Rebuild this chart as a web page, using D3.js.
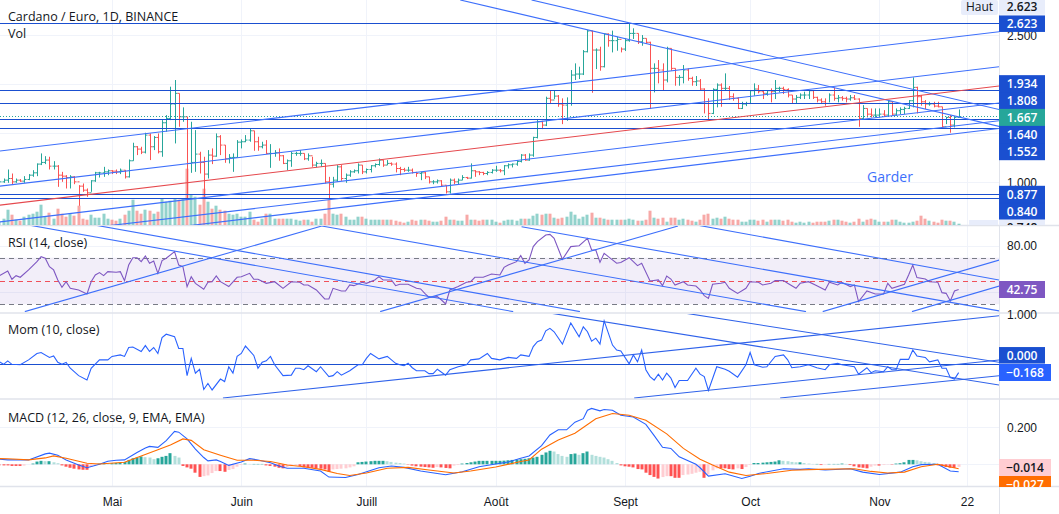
<!DOCTYPE html>
<html>
<head>
	<meta charset="utf-8">
	<title>Cardano / Euro</title>
	<script src="https://d3js.org/d3.v7.min.js"></script>
	<style>
		html, body { margin: 0; padding: 0; background: #fff; overflow: hidden; }
		svg { display: block; font-family: "Open Sans", "Noto Sans", sans-serif; }
	</style>
</head>
<body>
	<script>
		// daily bars, first one is 4 april, last one 20 nov
		const firstDay = new Date(Date.UTC(2021, 3, 4))

		const highs = [1.029,1.039,1.131,1.090,1.039,1.033,1.063,1.084,1.124,1.193,1.295,1.267,1.261,1.216,1.176,1.107,1.073,1.073,1.063,.971,.988,.937,1.022,1.107,1.107,1.158,1.131,1.124,1.131,1.141,1.124,1.233,1.404,1.370,1.363,1.506,1.499,1.472,1.499,1.635,1.686,1.976,2.044,1.908,1.765,1.669,1.618,1.533,1.312,1.261,1.329,1.346,1.499,1.482,1.380,1.288,1.295,1.431,1.438,1.482,1.550,1.526,1.465,1.414,1.431,1.390,1.329,1.346,1.278,1.233,1.312,1.312,1.329,1.295,1.295,1.261,1.210,1.233,1.193,1.056,1.056,1.176,1.176,1.090,
			1.124,1.131,1.193,1.176,1.141,1.176,1.193,1.244,1.227,1.227,1.203,1.203,1.158,1.148,1.158,1.141,1.107,1.107,1.107,1.056,1.022,1.029,1.022,.968,1.039,1.039,1.039,1.073,1.056,1.193,1.124,1.114,1.107,1.114,1.135,1.169,1.135,1.176,1.193,1.193,1.227,1.288,1.288,1.295,1.465,1.635,1.628,1.874,1.942,1.935,1.891,1.857,1.867,2.146,2.214,2.180,2.350,2.555,2.548,2.367,2.384,2.520,2.520,2.548,2.486,2.377,2.469,2.623,2.572,2.520,2.503,2.469,2.435,2.214,2.248,2.214,2.384,2.367,2.163,2.095,2.197,2.163,2.078,2.085,
			2.054,1.959,1.857,1.959,2.010,2.010,2.112,1.983,1.908,1.867,1.822,1.822,1.942,2.010,1.993,1.935,1.942,1.959,2.044,1.976,1.976,1.959,1.891,1.891,1.908,1.925,1.942,1.942,1.874,1.857,1.857,1.908,1.969,1.891,1.880,1.874,1.891,1.891,1.857,1.788,1.754,1.754,1.754,1.754,1.737,1.840,1.822,1.754,1.765,1.771,1.840,2.071,1.976,1.891,1.840,1.822,1.822,1.822,1.771,1.669,1.686,1.669,1.744]
		const lows = [.988,.995,.995,.981,.995,1.005,.995,1.022,1.056,1.063,1.176,1.186,1.131,1.131,.954,1.005,.937,.937,.981,.760,.903,.852,.903,1.005,1.049,1.056,1.073,1.084,1.084,1.084,1.039,1.049,1.220,1.278,1.288,1.295,1.227,1.329,1.295,1.261,1.516,1.635,1.397,1.567,1.618,.835,1.097,1.107,1.090,.835,1.039,1.186,1.261,1.278,1.199,1.193,1.107,1.254,1.346,1.410,1.414,1.322,1.322,1.346,1.288,1.148,1.261,1.220,1.186,1.124,1.158,1.271,1.271,1.227,1.220,1.158,1.152,1.158,.988,.835,.947,1.005,1.015,.995,
			1.056,1.097,1.090,1.084,1.090,1.101,1.152,1.169,1.158,1.176,1.169,1.101,1.073,1.107,1.107,1.090,1.056,1.022,1.033,.988,.981,.988,.954,.886,.886,.981,.981,1.022,1.033,1.039,1.056,1.073,1.073,1.073,1.090,1.107,1.101,1.073,1.141,1.152,1.169,1.203,1.220,1.220,1.261,1.448,1.543,1.574,1.799,1.850,1.771,1.594,1.628,1.782,2.044,2.054,2.095,2.326,1.914,2.156,2.139,2.173,2.384,2.326,2.343,2.326,2.340,2.435,2.463,2.412,2.394,2.412,1.748,1.918,2.010,1.942,2.020,2.139,1.986,1.986,2.010,2.037,1.986,1.983,
			1.942,1.703,1.635,1.696,1.765,1.771,1.942,1.840,1.833,1.748,1.748,1.778,1.799,1.884,1.908,1.850,1.884,1.816,1.850,1.918,1.901,1.867,1.805,1.805,1.850,1.850,1.850,1.850,1.816,1.799,1.782,1.816,1.833,1.816,1.833,1.816,1.833,1.840,1.567,1.645,1.662,1.662,1.662,1.662,1.669,1.669,1.679,1.679,1.696,1.696,1.748,1.765,1.703,1.782,1.748,1.782,1.765,1.765,1.550,1.594,1.506,1.560,1.662]
		const closes = [1.005,1.022,1.039,1.005,1.022,1.012,1.029,1.073,1.097,1.186,1.203,1.227,1.165,1.165,1.073,1.063,1.049,1.056,1.005,.961,.920,.893,1.015,1.097,1.097,1.107,1.118,1.114,1.107,1.124,1.056,1.220,1.363,1.339,1.308,1.482,1.363,1.458,1.312,1.608,1.652,1.799,1.908,1.669,1.669,1.193,1.203,1.288,1.203,1.084,1.278,1.267,1.465,1.380,1.240,1.254,1.254,1.410,1.414,1.431,1.526,1.414,1.363,1.380,1.295,1.295,1.302,1.271,1.193,1.220,1.295,1.295,1.295,1.240,1.271,1.176,1.193,1.193,1.005,.981,1.022,1.158,1.039,1.073,
			1.107,1.118,1.176,1.107,1.131,1.169,1.182,1.227,1.176,1.193,1.186,1.141,1.131,1.124,1.124,1.101,1.090,1.097,1.056,1.005,1.005,1.015,.971,.903,1.022,1.005,1.022,1.049,1.043,1.118,1.107,1.101,1.090,1.101,1.124,1.124,1.118,1.169,1.179,1.186,1.213,1.278,1.227,1.278,1.458,1.618,1.584,1.857,1.840,1.880,1.799,1.788,1.805,2.095,2.105,2.105,2.333,2.544,2.350,2.350,2.180,2.514,2.446,2.446,2.459,2.360,2.446,2.520,2.520,2.435,2.469,2.429,2.163,2.163,2.146,2.044,2.367,2.163,2.071,2.071,2.146,2.061,2.027,2.034,
			1.952,1.805,1.703,1.948,1.993,1.959,1.959,1.874,1.857,1.754,1.799,1.805,1.935,1.952,1.925,1.908,1.935,1.925,1.959,1.959,1.948,1.891,1.850,1.867,1.891,1.891,1.935,1.867,1.840,1.822,1.805,1.891,1.857,1.863,1.857,1.850,1.863,1.850,1.652,1.754,1.696,1.686,1.686,1.696,1.686,1.822,1.696,1.731,1.744,1.754,1.833,1.969,1.874,1.822,1.799,1.799,1.778,1.771,1.567,1.662,1.584,1.662,1.667]
		const volumes = [4,7,16,11,6,5,9,11,12,14,21,9,13,7,17,12,9,12,10,20,7,6,11,8,8,12,7,6,5,7,11,15,26,15,12,16,15,12,14,27,24,25,27,26,27,57,31,29,21,37,24,17,20,16,15,12,11,12,9,9,14,6,4,7,12,12,7,7,7,7,7,6,5,6,6,4,7,7,12,26,12,11,12,9,
			6,6,9,9,7,6,6,6,6,6,6,5,4,3,4,6,5,6,6,5,4,4,5,9,6,6,5,5,11,6,6,5,6,6,6,4,3,5,6,6,5,7,7,7,10,12,11,12,12,8,7,8,9,14,11,7,9,11,13,8,8,7,6,6,6,6,6,7,6,5,5,6,15,8,7,8,4,8,8,6,7,6,5,4,
			6,11,12,7,8,7,9,7,6,6,4,4,6,6,5,6,4,6,6,6,5,6,4,3,4,3,4,3,4,4,4,5,6,6,5,4,3,4,7,4,6,7,6,4,4,4,6,6,4,3,3,4,5,10,7,5,4,3,6,5,5,4,2]

		const rsiDays = [0,2,3,4,5,7,9,10,11,12,13,14,15,16,17,19,21,22,23,24,25,26,28,29,30,31,32,33,34,35,36,37,38,39,40,42,43,44,45,46,47,49,50,51,52,53,55,57,58,60,61,62,64,66,68,70,72,73,74,76,78,79,80,82,83,
			84,85,87,88,90,91,92,94,95,96,98,100,101,102,103,105,106,107,108,110,112,113,114,116,118,120,121,122,124,125,126,127,128,129,131,132,133,135,137,139,141,142,143,144,145,146,148,149,151,153,154,156,158,159,160,161,162,164,165,167,168,
			169,170,171,173,174,175,177,179,180,182,183,185,186,188,189,191,192,194,196,198,199,201,202,204,205,206,208,210,212,213,214,217,218,219,220,222,223,225,226,227,228,229,230]
		const rsi = [54.6,58.6,51.5,54.6,53.2,59.5,66.6,70.9,69.5,62.3,59.5,50.9,44.6,49.4,43.7,42.3,38.9,49.4,55.2,57.2,54.6,58,57.5,58,50.3,63.7,70,70,66.6,71.5,65.2,67.2,56.6,67.5,69.5,75.2,63.7,62.3,45.2,53.7,48,42.9,48.9,49.4,54.3,49.4,45.2,53.2,53.7,56.6,51.5,51.5,48,49.4,43.7,49.4,48.9,46.6,46.6,42.3,34.6,34.6,43.7,41.4,41.4,
			46.6,46,48.9,48,50.9,53.7,50.9,50.9,46,47.2,47.2,43.7,43.2,39.4,36,36.6,33.7,30.3,42.3,45.2,48.9,49.4,53.2,53.2,56,55.2,61.7,63.7,66.6,71.8,65.2,68,79.5,83.8,89.5,90,86.6,68.6,79.5,80.3,86.6,76.6,76.6,66,73.8,70.9,65.2,65.8,70,63.2,65.2,50,50.9,46,54.3,51.7,46.6,49.4,46.6,45.7,42.3,
			37.4,35.1,47.2,48,48.9,43.7,39.4,43.7,49.4,48.9,46.6,48,50.3,50.3,48,43.7,48,49.4,46,42.3,48.9,46.6,48.9,45.2,46.6,32.3,41.4,38.9,38.9,48,43.7,47.2,55.2,63.7,52.9,51.7,49.4,48.9,40,39.4,32.9,41.4,42.75]

		const momDays = [0,1,2,3,5,7,9,10,12,13,14,15,16,17,19,21,22,24,26,27,29,30,31,32,34,35,36,37,38,39,40,42,43,44,45,46,47,48,49,50,51,53,54,55,56,57,58,59,61,62,63,64,65,66,68,70,71,72,73,74,76,77,79,80,81,82,84,
			85,86,87,88,89,91,93,95,96,97,98,99,100,102,103,104,105,107,108,110,112,113,115,117,118,120,122,124,125,127,128,129,130,131,132,133,135,137,139,140,141,142,143,144,145,147,148,149,151,152,153,154,155,156,157,158,159,160,161,162,163,165,167,168,
			169,170,172,174,175,177,179,180,181,183,184,186,188,189,190,192,194,196,198,199,201,202,205,206,208,209,210,212,213,214,215,216,218,219,220,222,223,225,226,227,228,229,230]
		const mom = [.05,0,.07,0,-.01,.09,.22,.24,.14,.17,.04,0,.04,-.08,-.23,-.32,-.08,.09,.09,.16,.19,.16,.34,.35,.26,.38,.26,.34,.22,.54,.61,.56,.32,.32,-.23,.12,-.18,-.10,-.51,-.39,-.52,-.30,-.35,-.05,-.18,.16,.22,.37,.18,-.08,.04,.07,.16,-.01,-.23,-.22,-.08,-.08,-.11,-.03,-.15,-.05,-.25,-.23,-.15,-.22,-.13,
			-.07,-.01,-.01,.12,.22,.11,.16,.02,-.01,-.03,.02,-.07,-.13,-.13,-.19,-.19,-.10,-.22,-.11,-.05,-.01,.09,.11,.22,.12,.09,.14,.12,.19,.16,.36,.46,.49,.68,.73,.66,.41,.84,.56,.76,.66,.47,.53,.41,.88,.39,.29,.27,.01,.19,.05,.29,-.11,-.25,-.32,-.20,-.32,-.18,-.28,-.47,-.33,-.33,-.08,-.20,
			-.25,-.53,-.05,-.10,-.14,-.26,-.01,.24,-.01,-.06,-.05,.16,.19,.09,-.07,-.05,-.01,-.07,-.11,-.01,.02,-.01,-.05,-.20,-.07,-.17,-.13,-.15,-.05,-.11,-.11,.10,.10,.29,.17,.14,.05,.09,-.08,-.08,-.27,-.30,-.168]

		const macdDays = [0,2,7,11,12,14,16,19,21,24,26,28,30,33,35,36,38,40,42,43,45,47,49,50,52,53,55,58,60,62,65,67,69,73,77,79,83,86,91,94,97,101,107,111,115,119,122,125,127,130,132,134,136,138,140,141,142,144,145,147,149,152,155,157,159,161,163,167,168,170,174,178,180,182,188,192,194,198,204,207,211,216,219,221,225,228,230]
		const macd = [.028,.024,.024,.057,.061,.05,.024,-.004,-.019,0,.017,.022,.024,.065,.089,.098,.093,.13,.18,.176,.139,.083,.037,.019,.024,.015,-.006,.013,.031,.024,.009,-.009,-.022,-.022,-.037,-.07,-.072,-.056,-.019,-.009,-.017,-.037,-.057,-.041,-.013,.002,.013,.033,.046,.102,.161,.189,.189,.231,.25,.296,.306,.293,.30,.296,.269,.259,.219,.157,.093,.087,.041,0,-.019,-.065,-.052,-.078,-.065,-.05,-.024,-.028,-.024,-.031,-.024,-.043,-.056,-.043,-.013,-.002,0,-.037,-.041]
		const signalDays = [0,2,7,11,13,16,21,24,30,34,38,41,44,46,49,53,57,61,65,69,73,77,81,84,88,93,98,103,109,113,119,125,127,130,134,138,143,147,151,155,160,164,168,171,175,179,184,190,196,205,209,213,217,221,225,230]
		const signal = [.031,.03,.024,.035,.046,.033,.006,.002,.011,.046,.08,.106,.139,.131,.08,.05,.022,.022,.015,-.004,-.013,-.028,-.05,-.061,-.048,-.022,-.017,-.031,-.048,-.037,-.015,.015,.024,.083,.133,.17,.25,.278,.269,.241,.167,.087,.028,-.004,-.043,-.061,-.05,-.033,-.028,-.024,-.039,-.048,-.043,-.013,0,-.024]
		const hist = [-.006,-.006,-.006,-.009,-.009,-.009,-.007,0,.004,.015,.019,.017,.017,.011,.006,-.006,-.013,-.019,-.024,-.028,-.03,-.03,-.015,-.006,.004,.007,.006,.006,.007,.009,.013,.024,.033,.037,.043,.039,.037,.028,.033,.041,.046,.061,.046,.037,-.009,-.017,-.024,-.046,-.069,-.065,-.061,-.048,-.037,-.037,-.041,-.031,-.026,-.013,-.004,.004,.002,.002,.002,.002,-.006,-.009,-.013,-.019,-.022,-.015,-.011,-.007,-.009,-.017,-.019,-.019,-.022,-.024,-.028,-.041,-.028,-.026,-.024,-.022,-.017,-.011,
			.011,.013,.015,.017,.019,.019,.019,.017,.013,.009,.007,.004,-.002,-.007,-.011,-.013,-.015,-.017,-.019,-.015,-.017,-.02,-.022,-.007,-.004,.004,.007,.011,.015,.019,.019,.019,.019,.019,.019,.02,.022,.024,.026,.028,.03,
			.033,.037,.041,.052,.065,.074,.07,.056,.046,.041,.056,.059,.052,.061,.07,.052,.046,.041,.037,.028,.019,.007,-.006,-.011,-.013,-.017,-.026,-.028,-.046,-.059,-.069,-.078,-.07,-.065,-.065,-.074,-.074,-.059,-.056,-.052,-.046,-.041,-.074,-.056,-.033,-.022,-.022,-.022,-.026,-.028,-.022,-.026,-.015,-.004,.007,.007,.009,.011,.013,.015,.022,.019,.017,.013,.011,.011,.007,.004,.002,.002,-.004,-.002,.002,.002,.002,.004,.002,-.004,-.011,-.017,-.019,-.022,-.013,-.007,-.007,-.004,-.002,-.002,.004,.006,.011,.024,.024,.022,.017,.013,.011,.007,-.006,-.011,-.015,-.019,-.02,-.014]

		// horizontal levels and trend lines, [day, value, day, value]
		const priceLevels = [2.623, 1.934, 1.808, 1.640, 1.552, .877, .840]
		const priceChannel = [[0,1.319,239.7,2.537],[0,.961,239.7,2.180],[0,.596,239.7,1.809],[0,.426,239.7,1.628],[0,.325,239.7,1.55],[110.5,2.861,239.7,1.571],[127.6,2.861,239.7,1.743]]
		const priceMiddle = [0,.767,239.7,1.983]
		const rsiLines = [[6.1,23.7,77.3,97.2],[77.3,97.2,193.4,23.7],[7.1,98,123.2,23.7],[22.9,98,139.2,23.7],[125.2,96.6,239.8,24.3],[167.3,98,239.8,50.8],[91.3,23.7,162.7,97.2],[197.4,23.7,239.8,68],[218.8,23.7,239.8,45.7]]
		const momLines = [[53.6,-.684,239.7,.986],[152.2,-.684,239.7,.087],[187.2,-.684,239.7,-.231],[132.4,1.034,239.7,-.42],[164.2,1.04,239.7,.04]]

		const tickLabels = ["Mai", "Juin", "Juill", "Août", "Sept", "Oct", "Nov", "22"]
		const tickDates = [[4,1],[5,1],[6,1],[7,1],[8,1],[9,1],[10,1],[10,22]].map(([m, d]) => new Date(Date.UTC(2021, m, d)))

		const width = 1059, height = 514, axisX = 999
		const blue = "#2962ff", level = "#1a4fd0", up = "#26a69a", down = "#ef5350", grid = "#f0f3fa", sep = "#e0e3eb", ink = "#131722"

		const svg = d3.select("body").append("svg").attr("width", width).attr("height", height)

		const day = i => new Date(firstDay.getTime() + i * 864e5)
		const x = d3.scaleUtc()
			.domain([day(27), day(232)])
			.range([112, 967])
		const xd = i => x(day(i))
		const px = i => Math.round(xd(i)) + 0.5

		const yPrice = d3.scaleLinear().domain([.84, 2.623]).range([198, 23.3])
		const yVol = d3.scaleLinear().domain([0, 57]).range([225.7, 168.7])
		const yRsi = d3.scaleLinear().domain([30, 70]).range([304.3, 257.7])
		const yMom = d3.scaleLinear().domain([0, 1]).range([364.3, 315])
		const yMacd = d3.scaleLinear().domain([0, .2]).range([464.3, 427.8])

		const panes = [["price", 0, 225], ["rsi", 226, 86], ["mom", 314, 84.5], ["macd", 400, 86.5]]
		const defs = svg.append("defs")
		panes.forEach(([id, top, h]) => {
			defs.append("clipPath").attr("id", "clip-" + id)
				.append("rect").attr("x", 0).attr("y", top).attr("width", axisX).attr("height", h)
		})
		const pane = id => svg.append("g").attr("clip-path", `url(#clip-${id})`)

		// grid first
		const gridG = svg.append("g").attr("stroke", grid).attr("fill", "none")
		tickDates.forEach(d => {
			gridG.append("line").attr("x1", Math.round(x(d)) + .5).attr("x2", Math.round(x(d)) + .5).attr("y1", 0).attr("y2", 486)
		})
		const hGrid = (scale, vals) => vals.forEach(v => {
			gridG.append("line").attr("x1", 0).attr("x2", axisX).attr("y1", Math.floor(scale(v)) + .5).attr("y2", Math.floor(scale(v)) + .5)
		})
		hGrid(yPrice, [2.5, 2, 1.5, 1])
		hGrid(yRsi, [80, 40])
		hGrid(yMom, [0])
		hGrid(yMacd, [.2, 0])

		// separators
		const sepG = svg.append("g").attr("stroke", sep).attr("stroke-width", 1.5)
		;[225.5, 313, 399, 486.5].forEach(y => sepG.append("line").attr("x1", 0).attr("x2", width).attr("y1", y).attr("y2", y))
		sepG.append("line").attr("x1", axisX + .5).attr("x2", axisX + .5).attr("y1", 0).attr("y2", height).attr("stroke-width", 1)

		// price pane
		const gPrice = pane("price")
		const opens = closes.map((c, i) => i ? closes[i - 1] : c)
		const isUp = i => closes[i] >= opens[i]

		gPrice.append("g").selectAll("rect").data(volumes).join("rect")
			.attr("x", (d, i) => Math.round(xd(i)) - 1.5)
			.attr("width", 3)
			.attr("y", d => yVol(d))
			.attr("height", d => yVol(0) - yVol(d))
			.attr("fill", (d, i) => isUp(i) ? up : down)
			.attr("fill-opacity", .5)

		gPrice.append("g").attr("fill", "none").selectAll("path").data(closes).join("path")
			.attr("stroke", (d, i) => isUp(i) ? up : "#fb5252")
			.attr("d", (d, i) => {
				const c = px(i)
				return `M${c},${yPrice(highs[i])}V${yPrice(lows[i])}`
					+ `M${c - 2},${yPrice(opens[i])}H${c}`
					+ `M${c},${yPrice(closes[i])}H${c + 2}`
			})

		gPrice.append("line")
			.attr("x1", 0).attr("x2", axisX)
			.attr("y1", Math.floor(yPrice(1.667)) + .5).attr("y2", Math.floor(yPrice(1.667)) + .5)
			.attr("stroke", up).attr("stroke-dasharray", "1 2")

		const drawLevels = (g, scale, vals) => g.append("g").selectAll("line").data(vals).join("line")
			.attr("x1", 0).attr("x2", axisX)
			.attr("y1", d => Math.floor(scale(d)) + .5).attr("y2", d => Math.floor(scale(d)) + .5)
			.attr("stroke", level)

		const drawTrends = (g, scale, rows, color) => g.append("g").selectAll("line").data(rows).join("line")
			.attr("x1", d => xd(d[0])).attr("y1", d => scale(d[1]))
			.attr("x2", d => xd(d[2])).attr("y2", d => scale(d[3]))
			.attr("stroke", color).attr("stroke-width", 1.1)

		drawLevels(gPrice, yPrice, priceLevels)
		drawTrends(gPrice, yPrice, priceChannel, "#3d6ffb")
		drawTrends(gPrice, yPrice, [priceMiddle], "#e5484d")

		gPrice.append("text").attr("x", 890).attr("y", 182).attr("text-anchor", "middle")
			.attr("fill", "#3d6ffb").style("font-size", "14px").text("Garder")

		// rsi pane
		const gRsi = pane("rsi")
		gRsi.append("rect")
			.attr("x", 0).attr("width", axisX)
			.attr("y", yRsi(70)).attr("height", yRsi(30) - yRsi(70))
			.attr("fill", "#7e57c2").attr("fill-opacity", .1)
		;[[70, "#787b86"], [30, "#787b86"], [50, "#f0505a"]].forEach(([v, c]) => {
			gRsi.append("line").attr("x1", 0).attr("x2", axisX)
				.attr("y1", Math.round(yRsi(v)) + .5).attr("y2", Math.round(yRsi(v)) + .5)
				.attr("stroke", c).attr("stroke-dasharray", "5 4")
		})
		const seriesLine = (g, days, vals, scale, color) => g.append("path")
			.datum(vals)
			.attr("fill", "none").attr("stroke", color).attr("stroke-width", 1.1)
			.attr("d", d3.line().x((d, i) => xd(days[i])).y(d => scale(d)))
		seriesLine(gRsi, rsiDays, rsi, yRsi, "#7e57c2")
		drawTrends(gRsi, yRsi, rsiLines, "#3d6ffb")

		// momentum pane
		const gMom = pane("mom")
		drawLevels(gMom, yMom, [0])
		seriesLine(gMom, momDays, mom, yMom, blue)
		drawTrends(gMom, yMom, momLines, "#2f62ea")

		// macd pane
		const gMacd = pane("macd")
		gMacd.append("g").selectAll("rect").data(hist).join("rect")
			.attr("x", (d, i) => Math.round(xd(i)) - 1.5)
			.attr("width", 3)
			.attr("y", d => Math.min(yMacd(d), yMacd(0)))
			.attr("height", d => Math.abs(yMacd(d) - yMacd(0)))
			.attr("fill", (d, i) => {
				const prev = i ? hist[i - 1] : d
				if (d >= 0) return prev <= d ? up : "#b2dfdb"
				return prev < d ? "#ffcdd2" : "#ff5252"
			})
		seriesLine(gMacd, macdDays, macd, yMacd, blue)
		seriesLine(gMacd, signalDays, signal, yMacd, "#ff6d00")

		// axes, 2.000 and 1.500 sit behind the tags in the chart so only their grid lines are drawn
		const tickText = g => {
			g.select(".domain").remove()
			g.selectAll("text").attr("fill", ink).attr("text-anchor", "middle").style("font-size", "12px")
		}
		const rightAxis = (scale, vals, fmt) => svg.append("g").attr("transform", `translate(${axisX},0)`)
			.call(d3.axisRight(scale).tickValues(vals).tickSize(0).tickPadding(23).tickFormat(d3.format(fmt)))
			.call(tickText)
		rightAxis(yPrice, [2.5, 1], ".3f")
		rightAxis(yRsi, [80], ".2f")
		rightAxis(yMom, [1], ".3f")
		rightAxis(yMacd, [.2], ".3f")
		svg.append("g").attr("transform", "translate(0,491)")
			.call(d3.axisBottom(x).tickValues(tickDates).tickSize(0).tickPadding(6).tickFormat((d, i) => tickLabels[i]))
			.call(tickText)

		// price tags on the right
		const tag = (cy, h, label, bg, fg, w = 46, clipTo = null) => {
			const g = svg.append("g")
			if (clipTo) {
				const id = "tag-" + label.replace(/\W/g, "")
				defs.append("clipPath").attr("id", id).append("rect").attr("x", axisX).attr("y", 0).attr("width", 60).attr("height", clipTo)
				g.attr("clip-path", `url(#${id})`)
			}
			g.append("rect").attr("x", axisX).attr("y", cy - h / 2).attr("width", w).attr("height", h).attr("fill", bg)
			g.append("text").attr("x", axisX + w / 2).attr("y", cy).attr("dy", ".36em")
				.attr("text-anchor", "middle").attr("fill", fg).style("font-size", "12px").style("font-weight", 600).text(label)
		}
		tag(7, 15.5, "2.623", "#e8edfb", "#131722")
		svg.append("rect").attr("x", 961).attr("y", 0).attr("width", 37).attr("height", 15).attr("rx", 2).attr("fill", "#e8edfb")
		svg.append("text").attr("x", 979.5).attr("y", 7).attr("dy", ".36em").attr("text-anchor", "middle")
			.attr("fill", ink).style("font-size", "12px").text("Haut")
		tag(23.7, 16.5, "2.623", level, "#fff")
		svg.append("rect").attr("x", axisX).attr("y", 75.3).attr("width", 46).attr("height", 84.5).attr("fill", level)
		tag(84, 17, "1.934", level, "#fff")
		tag(100.7, 17, "1.808", level, "#fff")
		tag(134.7, 17, "1.640", level, "#fff")
		tag(151.7, 17, "1.552", level, "#fff")
		tag(117.4, 17, "1.667", up, "#fff")
		svg.append("rect").attr("x", axisX).attr("y", 186).attr("width", 46).attr("height", 34).attr("fill", level)
		tag(194.3, 17, "0.877", level, "#fff")
		tag(211.7, 17, "0.840", level, "#fff")
		tag(228, 17, "0.748", "#e8edfb", "#131722", 46, 225)
		svg.append("rect").attr("x", 969).attr("y", 220).attr("width", 29).attr("height", 5).attr("fill", "#e8edfb")
		tag(289.5, 17, "42.75", "#7e57c2", "#fff")
		tag(355.3, 16.5, "0.000", level, "#fff")
		tag(372.5, 17, "\u22120.168", blue, "#fff", 52)
		tag(467.5, 17, "\u22120.014", "#ffcdd2", "#131722", 52)
		tag(484.5, 17, "\u22120.027", "#ff6d00", "#fff", 52, 487)

		// pane titles
		const title = (y, t) => svg.append("text").attr("x", 8).attr("y", y).attr("dy", ".36em")
			.attr("fill", ink).style("font-size", "12.5px").text(t)
		title(16, "Cardano / Euro, 1D, BINANCE").style("font-weight", 500)
		title(33, "Vol")
		title(242, "RSI (14, close)")
		title(329, "Mom (10, close)")
		title(417, "MACD (12, 26, close, 9, EMA, EMA)")
	</script>
</body>
</html>
